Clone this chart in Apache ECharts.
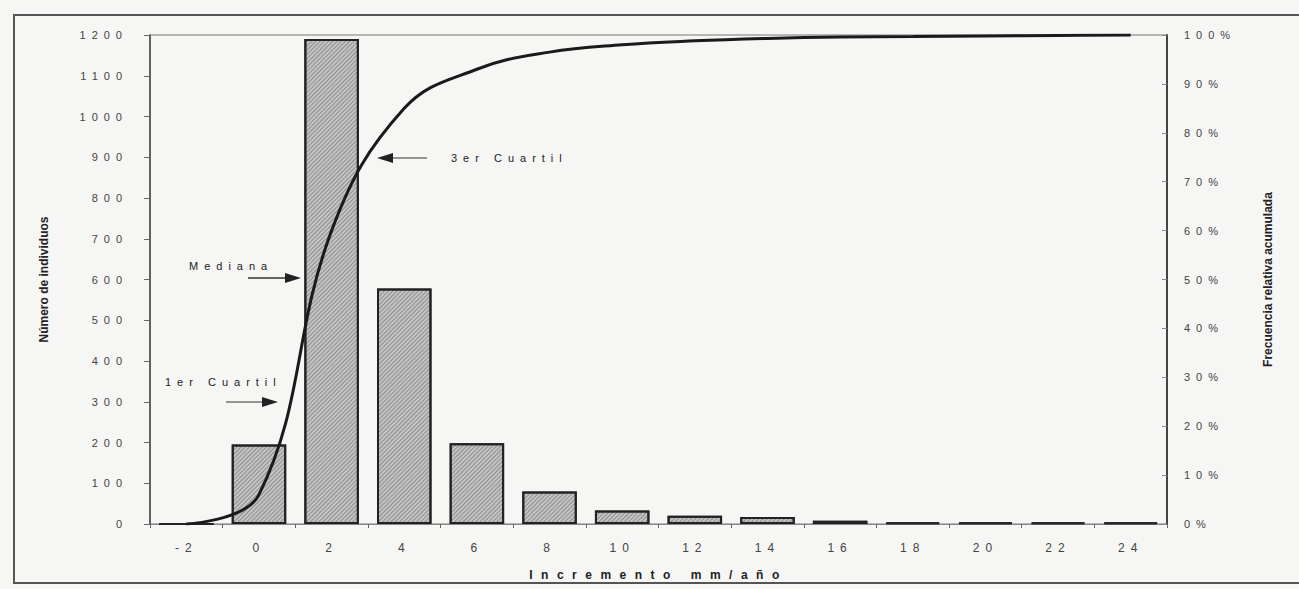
<!DOCTYPE html>
<html>
<head>
<meta charset="utf-8">
<script src="https://cdn.jsdelivr.net/npm/echarts@6/dist/echarts.min.js"></script>
<style>
html,body{margin:0;padding:0;background:#f6f6f4;}
#chart{width:1299px;height:589px;}
text[style*="Liberation Sans"]{letter-spacing:6px;}
text[style*="xname"]{letter-spacing:8.5px;}
</style>
</head>
<body>
<div id="chart"></div>
<script>
var categories = ['-2','0','2','4','6','8','10','12','14','16','18','20','22','24'];
var individuos = [0, 195, 1190, 578, 198, 80, 33, 20, 17, 8, 4, 4, 4, 4];
var acumulada = [0, 6, 60, 85, 93, 96.5, 98, 98.8, 99.3, 99.6, 99.7, 99.8, 99.9, 100];
var leftTicks = [0, 1200, 100];
var rightTicks = [0, 100, 10];

var SP = 'Liberation Sans';
var chart = echarts.init(document.getElementById('chart'), null, {renderer:'svg'});
chart.setOption({
  backgroundColor: '#f6f6f4',
  animation: false,
  grid: {left:150, right:132, top:35, bottom:65, show:true, borderColor:'#777', borderWidth:1, backgroundColor:'rgba(0,0,0,0)'},
  xAxis: {
    type:'category', data:categories,
    name:'Incremento mm/año', nameLocation:'middle', nameGap:45,
    nameTextStyle:{fontFamily:'Liberation Sans, xname', fontSize:12, fontWeight:'bold', color:'#222'},
    axisLine:{show:true, lineStyle:{color:'#888', width:1}},
    axisTick:{show:true, alignWithLabel:false, length:4, lineStyle:{color:'#666'}},
    axisLabel:{interval:0, fontFamily:SP, fontSize:12, color:'#444', margin:18}
  },
  yAxis: [{
    type:'value', min:leftTicks[0], max:leftTicks[1], interval:leftTicks[2],
    name:'Número de individuos', nameLocation:'middle', nameGap:100, nameRotate:90,
    nameTextStyle:{fontFamily:'Arial', fontSize:12, fontWeight:'bold', color:'#222'},
    axisLine:{show:true, lineStyle:{color:'#444', width:1.5}},
    axisTick:{show:true, length:6, lineStyle:{color:'#666'}},
    axisLabel:{fontFamily:SP, fontSize:11, color:'#444', margin:22, formatter:function(v){return String(v);}},
    splitLine:{show:false}
  },{
    type:'value', min:rightTicks[0], max:rightTicks[1], interval:rightTicks[2],
    name:'Frecuencia relativa acumulada', nameLocation:'middle', nameGap:95, nameRotate:90,
    nameTextStyle:{fontFamily:'Arial', fontSize:12, fontWeight:'bold', color:'#222'},
    axisLine:{show:true, lineStyle:{color:'#444', width:2}},
    axisTick:{show:true, inside:true, length:5, lineStyle:{color:'#888'}},
    axisLabel:{fontFamily:SP, fontSize:11, color:'#444', margin:17, formatter:'{value}%'},
    splitLine:{show:false}
  }],
  series: [{
    type:'bar', data:individuos, barWidth:'75%',
    itemStyle:{
      color:'#c4c4c4', borderColor:'#222', borderWidth:2,
      decal:{symbol:'rect', symbolSize:1, dashArrayX:[1,0], dashArrayY:[1,2], rotation:-Math.PI/4, color:'rgba(40,40,40,0.35)'}
    }
  },{
    type:'line', yAxisIndex:1, data:acumulada, smooth:0.4, symbol:'none',
    lineStyle:{color:'#1a1a1a', width:3}
  }],
  graphic: [
    {type:'rect', shape:{x:14, y:15, width:1300, height:568}, style:{fill:'none', stroke:'#555', lineWidth:2}, silent:true},
    {type:'text', style:{text:'Mediana', x:189, y:266, font:'11px Liberation Sans', fill:'#222', textVerticalAlign:'middle'}},
    {type:'line', shape:{x1:248, y1:278, x2:287, y2:278}, style:{stroke:'#333', lineWidth:1.5}},
    {type:'polygon', shape:{points:[[285,273],[301,278],[285,283]]}, style:{fill:'#222'}},
    {type:'text', style:{text:'1er Cuartil', x:165, y:382, font:'11px Liberation Sans', fill:'#222', textVerticalAlign:'middle'}},
    {type:'line', shape:{x1:226, y1:402, x2:264, y2:402}, style:{stroke:'#333', lineWidth:1}},
    {type:'polygon', shape:{points:[[262,397],[278,402],[262,407]]}, style:{fill:'#222'}},
    {type:'text', style:{text:'3er Cuartil', x:451, y:158, font:'11px Liberation Sans', fill:'#222', textVerticalAlign:'middle'}},
    {type:'line', shape:{x1:391, y1:158, x2:427, y2:158}, style:{stroke:'#333', lineWidth:1}},
    {type:'polygon', shape:{points:[[393,153],[377,158],[393,163]]}, style:{fill:'#222'}}
  ]
});
</script>
</body>
</html>
